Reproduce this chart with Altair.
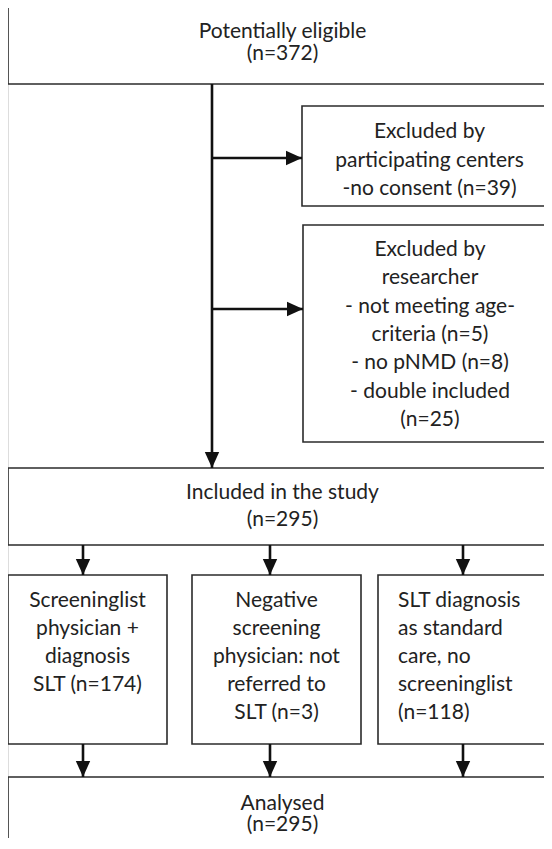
import altair as alt
import pandas as pd

# ---- content of the flow chart ----
box_lines = [
    ["Potentially eligible", "(n=372)"],
    ["Excluded by", "participating centers", "-no consent (n=39)"],
    ["Excluded by", "researcher", "- not meeting age-", "criteria (n=5)",
     "- no pNMD (n=8)", "- double included", "(n=25)"],
    ["Included in the study", "(n=295)"],
    ["Screeninglist", "physician +", "diagnosis", "SLT (n=174)"],
    ["Negative", "screening", "physician: not", "referred to", "SLT (n=3)"],
    ["SLT diagnosis", "as standard", "care, no", "screeninglist", "(n=118)"],
    ["Analysed", "(n=295)"],
]

# ---- layout (page pixel units): x0, x1, y0, y1, first line y, line step, align ----
layout = [
    (8, 560, 7, 84, 32, 21.5, "center"),
    (302, 556, 106, 206, 132, 28.5, "center"),
    (303, 556, 225, 442, 250, 28.3, "center"),
    (8, 560, 468, 545, 493, 27, "center"),
    (8, 167, 575, 744, 601, 28, "center"),
    (192, 361, 575, 744, 601, 28, "center"),
    (378, 560, 575, 744, 601, 28, "left"),
    (8, 560, 777, 900, 804, 21, "center"),
]
text_pad_left = 20

# connectors: (x, y, x2, y2, arrow direction)
main_x = 212
col_x = [83, 270, 463]
connectors = [(main_x, 84, main_x, 468, "down"),
              (main_x, 158, 302, 158, "right"),
              (main_x, 309, 303, 309, "right")]
for cx in col_x:
    connectors.append((cx, 545, cx, 575, "down"))
    connectors.append((cx, 744, cx, 777, "down"))

head_len = 16

boxes = pd.DataFrame([dict(x=l[0], x2=l[1], y=l[2], y2=l[3]) for l in layout])

rules = pd.DataFrame([dict(x=c[0], y=c[1], x2=c[2], y2=c[3]) for c in connectors])
heads = []
for x, y, x2, y2, d in connectors:
    if d == "down":
        heads.append(dict(x=x2, y=y2 - head_len / 2, d=d))
    else:
        heads.append(dict(x=x2 - head_len / 2, y=y2, d=d))
heads = pd.DataFrame(heads)

# plot area = page pixels 8..544 horizontally, 8..838 vertically
W, H = 536, 830
xs = alt.Scale(domain=[8, 8 + W], nice=False, zero=False)
ys = alt.Scale(domain=[8, 8 + H], nice=False, zero=False, reverse=True)
X = lambda f: alt.X(f, type="quantitative", scale=xs, axis=None)
Y = lambda f: alt.Y(f, type="quantitative", scale=ys, axis=None)

rects = alt.Chart(boxes).mark_rect(fill="white", stroke="#2b2b2b", strokeWidth=1.6, clip=True).encode(
    x=X("x"), x2="x2", y=Y("y"), y2="y2")

lines = alt.Chart(rules).mark_rule(color="#111111", strokeWidth=2.6).encode(
    x=X("x"), x2="x2", y=Y("y"), y2="y2")

down_shape = "M-0.45,-0.5L0.45,-0.5L0,0.5Z"
right_shape = "M-0.5,-0.45L0.5,0L-0.5,0.45Z"
heads_down = alt.Chart(heads[heads["d"] == "down"]).mark_point(
    shape=down_shape, filled=True, color="#111111", opacity=1, size=head_len ** 2 * 4, strokeWidth=0).encode(
    x=X("x"), y=Y("y"))
heads_right = alt.Chart(heads[heads["d"] == "right"]).mark_point(
    shape=right_shape, filled=True, color="#111111", opacity=1, size=head_len ** 2 * 4, strokeWidth=0).encode(
    x=X("x"), y=Y("y"))

font = "Lato"
fs = 21
text_layers = []
for lns, l in zip(box_lines, layout):
    x0, x1, y0, y1, ty, step, align = l
    tx = (x0 + x1) / 2 if align == "center" else x0 + text_pad_left
    if align == "center" and x1 > 550:
        tx = (x0 + 557) / 2
    df = pd.DataFrame([dict(x=tx, y=ty, text=lns)])
    text_layers.append(
        alt.Chart(df).mark_text(font=font, fontSize=fs, color="#222222", baseline="middle",
                                align=align, lineHeight=step).encode(
            x=X("x"), y=Y("y"), text="text"))

chart = alt.layer(rects, lines, heads_down, heads_right, *text_layers).properties(
    width=W, height=H, autosize=alt.AutoSizeParams(type="none"), padding=0
).configure_view(stroke=None).configure(background="white")

chart.save("out.html", embed_options={"renderer": "svg", "actions": False})
